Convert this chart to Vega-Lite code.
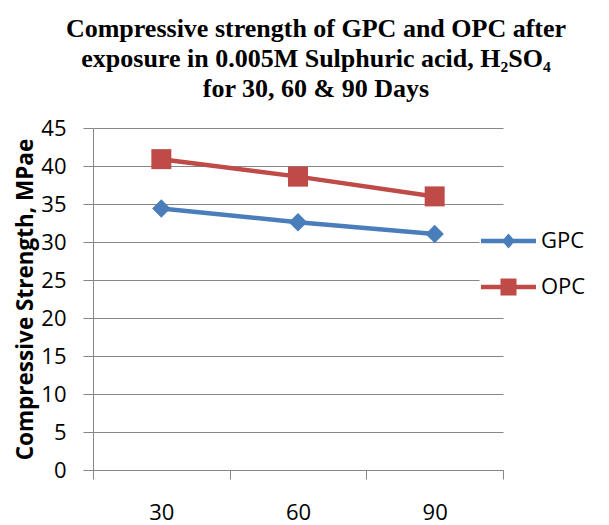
{
  "$schema": "https://vega.github.io/schema/vega-lite/v6.json",
  "width": 410,
  "height": 342,
  "autosize": {"type": "none"},
  "padding": {"left": 93, "top": 128, "right": 106, "bottom": 55},
  "background": "white",
  "title": {
    "text": ["Compressive strength of GPC and OPC after", "exposure  in 0.005M Sulphuric acid, H₂SO₄", "for 30, 60 & 90  Days"],
    "font": "Liberation Serif",
    "fontSize": 26,
    "fontWeight": "bold",
    "color": "black",
    "lineHeight": 30,
    "anchor": "middle",
    "frame": "group",
    "dx": 18,
    "offset": 15
  },
  "data": {
    "values": [
      {"Days": "30", "series": "GPC", "strength": 34.4},
      {"Days": "60", "series": "GPC", "strength": 32.6},
      {"Days": "90", "series": "GPC", "strength": 31.05},
      {"Days": "30", "series": "OPC", "strength": 40.9},
      {"Days": "60", "series": "OPC", "strength": 38.6},
      {"Days": "90", "series": "OPC", "strength": 36.0}
    ]
  },
  "encoding": {
    "x": {
      "field": "Days",
      "type": "ordinal",
      "sort": ["30", "60", "90"],
      "bandPosition": 0.5,
      "scale": {"type": "band", "paddingInner": 0, "paddingOuter": 0},
      "axis": {
        "title": null,
        "labelAngle": 0,
        "tickBand": "extent",
        "grid": false,
        "tickSize": 9,
        "labelPadding": 23,
        "labelFont": "Open Sans",
        "labelFontSize": 22,
        "labelColor": "black",
        "domainColor": "#868686",
        "tickColor": "#868686"
      }
    },
    "y": {
      "field": "strength",
      "type": "quantitative",
      "scale": {"domain": [0, 45], "nice": false, "zero": true},
      "axis": {
        "title": "Compressive Strength, MPae",
        "titleFont": "Open Sans",
        "titleFontSize": 22.5,
        "titleFontWeight": "bold",
        "titleColor": "black",
        "titlePadding": 3,
        "values": [0, 5, 10, 15, 20, 25, 30, 35, 40, 45],
        "tickSize": 10,
        "labelPadding": 17,
        "labelFont": "Open Sans",
        "labelFontSize": 22,
        "labelColor": "black",
        "grid": true,
        "gridColor": "#868686",
        "domainColor": "#868686",
        "tickColor": "#868686"
      }
    },
    "color": {
      "field": "series",
      "type": "nominal",
      "scale": {"domain": ["GPC", "OPC"], "range": ["#4A7EBB", "#BE4B48"]},
      "legend": {
        "title": null,
        "orient": "none",
        "legendX": 386.5,
        "legendY": 84,
        "padding": 18,
        "fillColor": "white",
        "strokeColor": null,
        "symbolSize": 400,
        "labelOffset": 21.5,
        "rowPadding": 24,
        "labelFont": "Open Sans",
        "labelFontSize": 22,
        "labelColor": "black",
        "encode": {
          "symbols": {
            "update": {
              "shape": {"signal": "datum.value === 'GPC' ? 'M-2.75,-0.22H2.75V0.22H-2.75Z M0,-0.75L0.65,0L0,0.75L-0.65,0Z' : 'M-2.75,-0.22H2.75V0.22H-2.75Z M-0.8,-0.85H0.8V0.85H-0.8Z'"},
              "fill": {"signal": "datum.value === 'GPC' ? '#4A7EBB' : '#BE4B48'"},
              "fillOpacity": {"value": 1},
              "opacity": {"value": 1},
              "strokeWidth": {"value": 0}
            }
          }
        }
      }
    }
  },
  "layer": [
    {"mark": {"type": "line", "strokeWidth": 4.5}},
    {
      "mark": {"type": "point", "filled": true, "opacity": 1},
      "encoding": {
        "shape": {"condition": {"test": "datum.series === 'GPC'", "value": "diamond"}, "value": "square"},
        "size": {"condition": {"test": "datum.series === 'GPC'", "value": 340}, "value": 400}
      }
    }
  ],
  "config": {"view": {"stroke": null}}
}
